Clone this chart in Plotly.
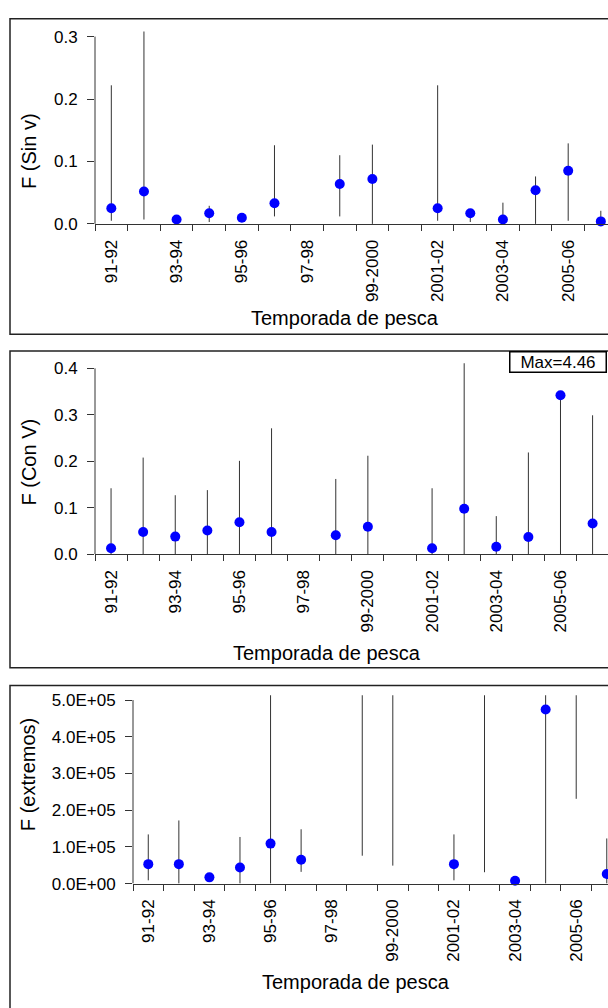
import numpy as np
import plotly.graph_objects as go

# Fishing seasons (categories) and the subset that carries a tick label
seasons = ["91-92", "92-93", "93-94", "94-95", "95-96", "96-97", "97-98", "98-99",
           "99-2000", "2000-01", "2001-02", "2002-03", "2003-04", "2004-05", "2005-06", "2006-07"]
label_idx = [0, 2, 4, 6, 8, 10, 12, 14]

nan = np.nan

# Panel 1: F (Sin v) -- estimate, lower and upper limits
f_sin_est = [0.025, 0.052, 0.007, 0.017, 0.010, 0.033, nan, 0.064, 0.072, nan, 0.025, 0.017, 0.007, 0.054, 0.085, 0.004]
f_sin_lo  = [0.005, 0.007, nan, 0.003, nan, 0.012, nan, 0.012, 0.000, nan, 0.005, 0.003, 0.000, 0.000, 0.005, 0.000]
f_sin_hi  = [0.222, 0.312, nan, 0.029, nan, 0.126, nan, 0.110, 0.127, nan, 0.222, 0.020, 0.034, 0.076, 0.129, 0.021]

# Panel 2: F (Con V)
f_con_est = [0.013, 0.048, 0.038, 0.051, 0.069, 0.048, nan, 0.041, 0.059, nan, 0.013, 0.098, 0.016, 0.037, 0.342, 0.066]
f_con_lo  = [0.000, 0.000, 0.000, 0.000, 0.000, 0.000, nan, 0.000, 0.000, nan, 0.000, 0.000, 0.000, 0.000, 0.000, 0.000]
f_con_hi  = [0.142, 0.208, 0.127, 0.138, 0.201, 0.271, nan, 0.162, 0.212, nan, 0.142, 4.46, 0.082, 0.219, 0.342, 0.299]

# Panel 3: F (extremos)
f_ext_est = [5.3e4, 5.3e4, 1.7e4, 4.4e4, 1.09e5, 6.5e4, nan, nan, nan, nan, 5.3e4, nan, 8.0e3, 4.74e5, nan, 2.6e4]
f_ext_lo  = [9.0e3, 0.0, nan, 0.0, 0.0, 3.2e4, nan, 7.6e4, 4.9e4, nan, 9.0e3, 3.1e4, nan, 0.0, 2.31e5, 0.0]
f_ext_hi  = [1.34e5, 1.72e5, nan, 1.27e5, 5.2e5, 1.48e5, nan, 5.2e5, 5.2e5, nan, 1.34e5, 5.2e5, nan, 5.2e5, 5.2e5, 1.23e5]

# Y-axis ticks per panel
y1_ticks = [0.0, 0.1, 0.2, 0.3]
y1_text = ["0.0", "0.1", "0.2", "0.3"]
y2_ticks = [0.0, 0.1, 0.2, 0.3, 0.4]
y2_text = ["0.0", "0.1", "0.2", "0.3", "0.4"]
y3_ticks = [0, 1e5, 2e5, 3e5, 4e5, 5e5]
y3_text = ["0.0E+00", "1.0E+05", "2.0E+05", "3.0E+05", "4.0E+05", "5.0E+05"]

y_titles = ["F (Sin v)", "F (Con V)", "F (extremos)"]
x_title = "Temporada de pesca"

W, H = 608, 1008
FONT = "Liberation Sans, Arial, sans-serif"
AX = "#333333"
TICK_FS = 17
TITLE_FS = 20


def py(px):
    return 1 - px / H


xpos = list(range(len(seasons)))
boundaries = [i - 0.5 for i in range(len(seasons) + 1)]

panels = [
    dict(est=f_sin_est, lo=f_sin_lo, hi=f_sin_hi, ticks=y1_ticks, text=y1_text,
         xdom=[95 / W, 1], ydom=[py(223), py(28)], xr=[-0.5, 15.22], yr=[0, 0.308],
         box=(15, 335), ytitle=(29, 149), xtitle=(345, 318)),
    dict(est=f_con_est, lo=f_con_lo, hi=f_con_hi, ticks=y2_ticks, text=y2_text,
         xdom=[95 / W, 1], ydom=[py(558), py(364.3)], xr=[-0.5, 15.48], yr=[0, 0.411],
         box=(352, 673), ytitle=(29, 465), xtitle=(327, 658)),
    dict(est=f_ext_est, lo=f_ext_lo, hi=f_ext_hi, ticks=y3_ticks, text=y3_text,
         xdom=[133 / W, 1], ydom=[py(892), py(701)], xr=[-0.5, 15.04], yr=[0, 5.13e5],
         box=(691, 1030), ytitle=(28, 782), xtitle=(356, 992)),
]

fig = go.Figure()
layout = dict(width=W, height=H, margin=dict(l=0, r=0, t=0, b=0),
              paper_bgcolor="white", plot_bgcolor="white", showlegend=False,
              font=dict(family=FONT, color="black", size=TICK_FS))
shapes = []
annotations = []

for k, p in enumerate(panels):
    n = k + 1
    xs = "" if n == 1 else str(n)
    xa, ya = "x" + xs, "y" + xs
    ox, oy = "x" + str(n + 3), "y" + str(n + 3)

    lo = np.array(p["lo"], dtype=float)
    hi = np.array(p["hi"], dtype=float)
    # vertical interval lines
    fig.add_trace(go.Scatter(
        x=xpos, y=lo, mode="markers", marker=dict(size=1, opacity=0),
        error_y=dict(type="data", symmetric=False, array=hi - lo,
                     arrayminus=np.zeros(len(lo)), width=0, thickness=1, color=AX),
        xaxis=xa, yaxis=ya, hoverinfo="skip"))
    # point estimates
    fig.add_trace(go.Scatter(
        x=xpos, y=p["est"], mode="markers", cliponaxis=False,
        marker=dict(color="#0000FF", size=10, line=dict(width=0)),
        xaxis=xa, yaxis=ya))

    layout["xaxis" + xs] = dict(
        domain=p["xdom"], anchor=ya, range=p["xr"], showgrid=False, zeroline=False,
        showline=True, linecolor=AX, linewidth=1,
        tickmode="array", tickvals=label_idx, ticktext=[seasons[i] for i in label_idx],
        ticks="", tickangle=-90, ticklabelstandoff=8,
        tickfont=dict(size=TICK_FS, family=FONT, color="black"),
        minor=dict(tickmode="array", tickvals=boundaries, ticks="outside",
                   ticklen=6, tickwidth=1, tickcolor=AX, showgrid=False))
    layout["yaxis" + xs] = dict(
        domain=p["ydom"], anchor=xa, range=p["yr"], showgrid=False, zeroline=False,
        showline=False, tickmode="array", tickvals=p["ticks"], ticktext=p["text"],
        ticks="outside", ticklen=7, tickwidth=1, tickcolor=AX, ticklabelstandoff=6,
        tickfont=dict(size=TICK_FS, family=FONT, color="black"))
    # overlay axes give the inner half of each crossing tick
    layout["xaxis" + str(n + 3)] = dict(
        overlaying=xa, anchor=ya, range=p["xr"], showgrid=False, zeroline=False,
        showline=False, showticklabels=False, tickmode="array", tickvals=boundaries,
        ticks="inside", ticklen=5, tickwidth=1, tickcolor=AX)
    layout["yaxis" + str(n + 3)] = dict(
        overlaying=ya, anchor=xa, range=p["yr"], showgrid=False, zeroline=False,
        showline=False, showticklabels=False, tickmode="array", tickvals=p["ticks"],
        ticks="inside", ticklen=7, tickwidth=1, tickcolor=AX)

    # y-axis line from zero up to the last tick
    shapes.append(dict(type="line", xref=xa + " domain", x0=0, x1=0, yref=ya,
                       y0=p["ticks"][0], y1=p["ticks"][-1], line=dict(color=AX, width=1)))
    # panel frame
    shapes.append(dict(type="rect", xref="paper", yref="paper", x0=10 / W, x1=1.05,
                       y0=py(p["box"][1]), y1=py(p["box"][0]),
                       line=dict(color="#222222", width=1.5), fillcolor="rgba(0,0,0,0)"))
    annotations.append(dict(text=y_titles[k], xref="paper", yref="paper",
                            x=p["ytitle"][0] / W, y=py(p["ytitle"][1]), textangle=-90,
                            showarrow=False, xanchor="center", yanchor="middle",
                            font=dict(size=TITLE_FS, family=FONT, color="black")))
    annotations.append(dict(text=x_title, xref="paper", yref="paper",
                            x=p["xtitle"][0] / W, y=py(p["xtitle"][1]),
                            showarrow=False, xanchor="center", yanchor="middle",
                            font=dict(size=TITLE_FS, family=FONT, color="black")))

annotations.append(dict(text="Max=4.46", xref="paper", yref="paper",
                        x=607 / W, y=py(352), xanchor="right", yanchor="top",
                        showarrow=False, bordercolor="black", borderwidth=1.5,
                        bgcolor="white", width=95, height=19, borderpad=0,
                        font=dict(size=TICK_FS, family=FONT, color="black")))

layout["shapes"] = shapes
layout["annotations"] = annotations
fig.update_layout(**layout)
fig.write_html("out.html")
